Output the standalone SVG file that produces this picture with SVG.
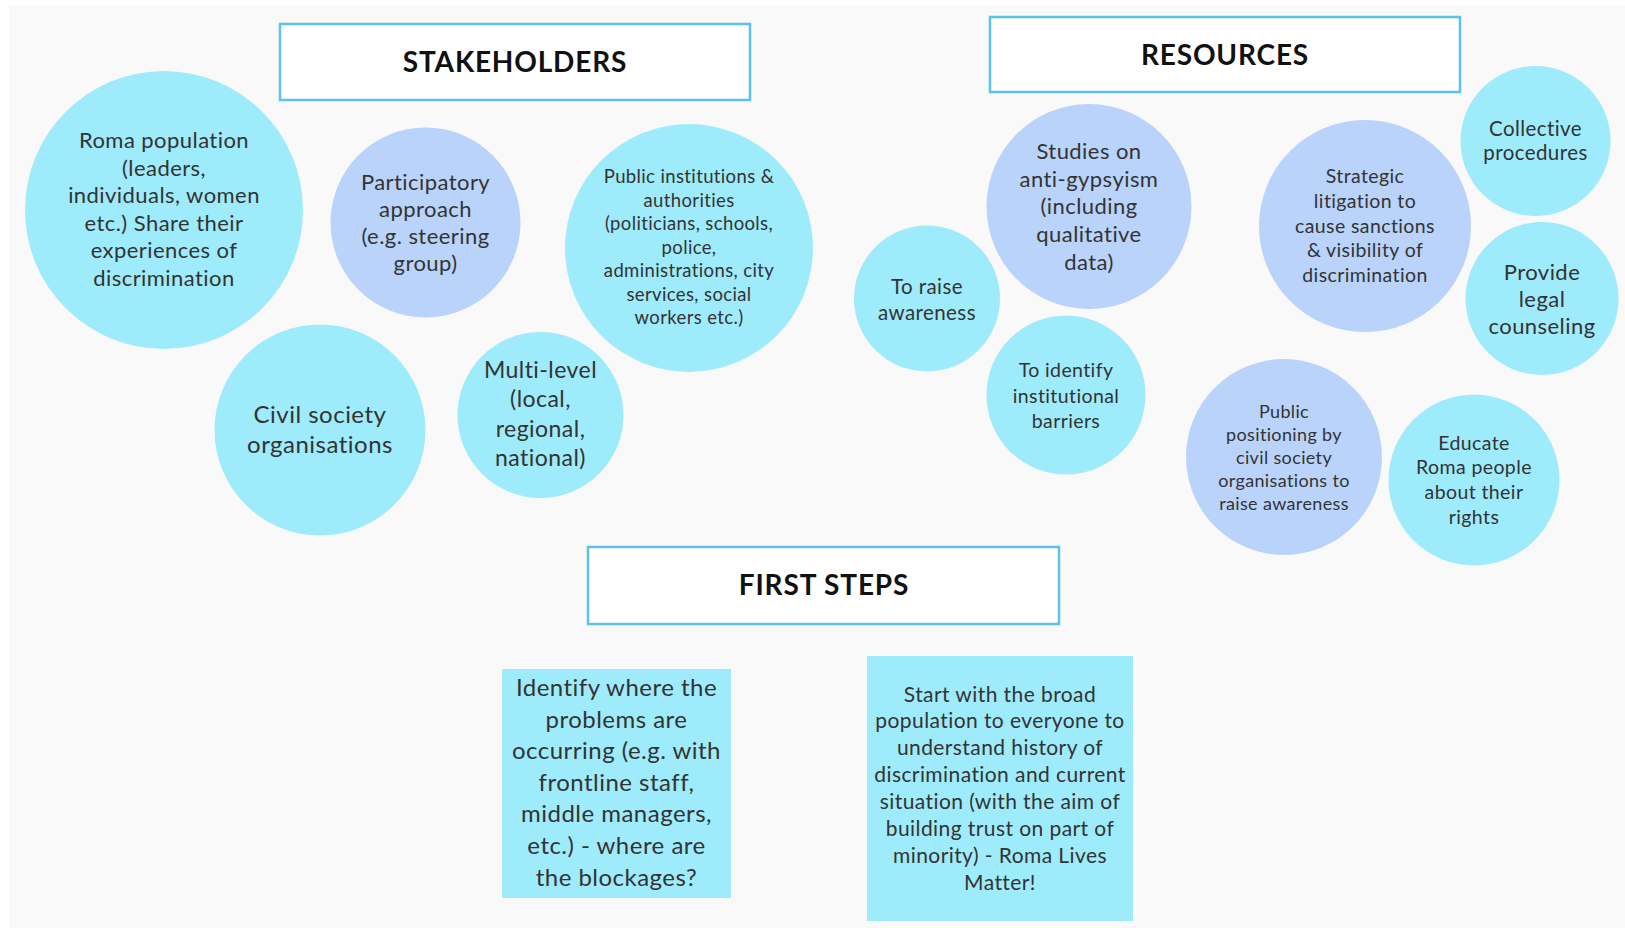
<svg xmlns="http://www.w3.org/2000/svg" width="1625" height="928" viewBox="0 0 1625 928">
  <style>
    .bg { fill: #f9f9f9; }
    .head { fill: #ffffff; stroke: #5cc3e8; stroke-width: 2.5; }
    .head-t { font-family: Lato, "Liberation Sans", sans-serif; font-weight: 700; font-size: 28px; letter-spacing: 0.03em; fill: #111111; text-anchor: middle; }
    .cyan { fill: #9eebfb; }
    .lav { fill: #b9d3fb; }
    .t { font-family: Lato, "Liberation Sans", sans-serif; fill: #333333; text-anchor: middle; letter-spacing: 0.02em; }
  </style>

  <rect x="0" y="0" width="1625" height="928" fill="#ffffff"/>
  <rect class="bg" x="9" y="5" width="1616" height="923"/>

  <!-- section headers -->
  <g id="hdr-stakeholders">
    <rect class="head" x="280" y="24" width="470" height="76"/>
    <text class="head-t" x="515" y="72">STAKEHOLDERS</text>
  </g>
  <g id="hdr-resources">
    <rect class="head" x="990" y="17" width="470" height="75"/>
    <text class="head-t" x="1225" y="65">RESOURCES</text>
  </g>
  <g id="hdr-first-steps">
    <rect class="head" x="588" y="547" width="471" height="77"/>
    <text class="head-t" x="824" y="595">FIRST STEPS</text>
  </g>

  <!-- stakeholders (tspans are written back to back so no stray spaces shift the centring) -->
  <g id="roma-population">
    <circle class="cyan" cx="164" cy="210" r="139"/>
    <text class="t" font-size="22"><tspan x="164" y="148">Roma population</tspan><tspan
      x="164" y="175.5">(leaders,</tspan><tspan
      x="164" y="203">individuals, women</tspan><tspan
      x="164" y="230.5">etc.) Share their</tspan><tspan
      x="164" y="258">experiences of</tspan><tspan
      x="164" y="285.5">discrimination</tspan></text>
  </g>
  <g id="participatory">
    <circle class="lav" cx="425.5" cy="222.5" r="95"/>
    <text class="t" font-size="22"><tspan x="425.5" y="189.5">Participatory</tspan><tspan
      x="425.5" y="216.5">approach</tspan><tspan
      x="425.5" y="243.5">(e.g. steering</tspan><tspan
      x="425.5" y="270.5">group)</tspan></text>
  </g>
  <g id="public-institutions">
    <circle class="cyan" cx="689" cy="248" r="124"/>
    <text class="t" font-size="18.5" letter-spacing="0.025em"><tspan x="689" y="183">Public institutions &amp;</tspan><tspan
      x="689" y="206.5">authorities</tspan><tspan
      x="689" y="230">(politicians, schools,</tspan><tspan
      x="689" y="253.5">police,</tspan><tspan
      x="689" y="277">administrations, city</tspan><tspan
      x="689" y="300.5">services, social</tspan><tspan
      x="689" y="324">workers etc.)</tspan></text>
  </g>
  <g id="civil-society">
    <circle class="cyan" cx="320" cy="430" r="105.5"/>
    <text class="t" font-size="24"><tspan x="320" y="422.5">Civil society</tspan><tspan
      x="320" y="452.5">organisations</tspan></text>
  </g>
  <g id="multi-level">
    <circle class="cyan" cx="540.5" cy="415" r="83"/>
    <text class="t" font-size="23"><tspan x="540.5" y="377.5">Multi-level</tspan><tspan
      x="540.5" y="407">(local,</tspan><tspan
      x="540.5" y="436.5">regional,</tspan><tspan
      x="540.5" y="466">national)</tspan></text>
  </g>

  <!-- resources -->
  <g id="studies">
    <circle class="lav" cx="1089" cy="206.5" r="102.5"/>
    <text class="t" font-size="22"><tspan x="1089" y="159">Studies on</tspan><tspan
      x="1089" y="186.7">anti-gypsyism</tspan><tspan
      x="1089" y="214.4">(including</tspan><tspan
      x="1089" y="242.1">qualitative</tspan><tspan
      x="1089" y="269.8">data)</tspan></text>
  </g>
  <g id="raise-awareness">
    <circle class="cyan" cx="927" cy="298.5" r="73"/>
    <text class="t" font-size="20.5" letter-spacing="0.025em"><tspan x="927" y="293.5">To raise</tspan><tspan
      x="927" y="319.5">awareness</tspan></text>
  </g>
  <g id="institutional-barriers">
    <circle class="cyan" cx="1066" cy="395" r="79.5"/>
    <text class="t" font-size="19.5" letter-spacing="0.01em"><tspan x="1066" y="377">To identify</tspan><tspan
      x="1066" y="402.5">institutional</tspan><tspan
      x="1066" y="428">barriers</tspan></text>
  </g>
  <g id="strategic-litigation">
    <circle class="lav" cx="1365" cy="226" r="106"/>
    <text class="t" font-size="19.5" letter-spacing="0.03em"><tspan x="1365" y="183">Strategic</tspan><tspan
      x="1365" y="207.8">litigation to</tspan><tspan
      x="1365" y="232.6">cause sanctions</tspan><tspan
      x="1365" y="257.4">&amp; visibility of</tspan><tspan
      x="1365" y="282.2">discrimination</tspan></text>
  </g>
  <g id="collective-procedures">
    <circle class="cyan" cx="1535.5" cy="141" r="75"/>
    <text class="t" font-size="20.5" letter-spacing="0.015em"><tspan x="1535.5" y="135.5">Collective</tspan><tspan
      x="1535.5" y="159.5">procedures</tspan></text>
  </g>
  <g id="legal-counseling">
    <circle class="cyan" cx="1542" cy="298.5" r="76.5"/>
    <text class="t" font-size="22"><tspan x="1542" y="280">Provide</tspan><tspan
      x="1542" y="307">legal</tspan><tspan
      x="1542" y="334">counseling</tspan></text>
  </g>
  <g id="public-positioning">
    <circle class="lav" cx="1284" cy="457" r="98"/>
    <text class="t" font-size="18"><tspan x="1284" y="417.5">Public</tspan><tspan
      x="1284" y="440.6">positioning by</tspan><tspan
      x="1284" y="463.7">civil society</tspan><tspan
      x="1284" y="486.8">organisations to</tspan><tspan
      x="1284" y="509.9">raise awareness</tspan></text>
  </g>
  <g id="educate-roma">
    <circle class="cyan" cx="1474" cy="480" r="85.5"/>
    <text class="t" font-size="19.5"><tspan x="1474" y="449.5">Educate</tspan><tspan
      x="1474" y="474.2">Roma people</tspan><tspan
      x="1474" y="498.9">about their</tspan><tspan
      x="1474" y="523.6">rights</tspan></text>
  </g>

  <!-- first steps -->
  <g id="identify-problems">
    <rect class="cyan" x="502" y="669" width="229" height="229"/>
    <text class="t" font-size="24" letter-spacing="0.025em"><tspan x="616.5" y="696">Identify where the</tspan><tspan
      x="616.5" y="727.6">problems are</tspan><tspan
      x="616.5" y="759.2">occurring (e.g. with</tspan><tspan
      x="616.5" y="790.8">frontline staff,</tspan><tspan
      x="616.5" y="822.4">middle managers,</tspan><tspan
      x="616.5" y="854">etc.) - where are</tspan><tspan
      x="616.5" y="885.6">the blockages?</tspan></text>
  </g>
  <g id="broad-population">
    <rect class="cyan" x="867" y="656" width="266" height="265"/>
    <text class="t" font-size="21" letter-spacing="0.025em"><tspan x="1000" y="701.5">Start with the broad</tspan><tspan
      x="1000" y="728.4">population to everyone to</tspan><tspan
      x="1000" y="755.3">understand history of</tspan><tspan
      x="1000" y="782.2">discrimination and current</tspan><tspan
      x="1000" y="809.1">situation (with the aim of</tspan><tspan
      x="1000" y="836">building trust on part of</tspan><tspan
      x="1000" y="862.9">minority) - Roma Lives</tspan><tspan
      x="1000" y="889.8">Matter!</tspan></text>
  </g>

  <!-- connectors: none drawn -->
  <g id="connectors"/>
</svg>
